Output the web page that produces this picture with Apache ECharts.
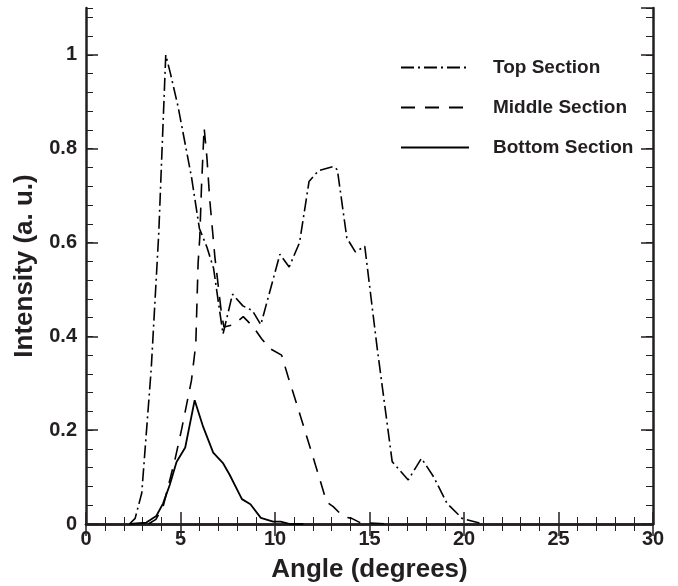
<!DOCTYPE html>
<html>
<head>
<meta charset="utf-8">
<script src="https://cdn.jsdelivr.net/npm/echarts@6/dist/echarts.min.js"></script>
<style>
  html, body { margin: 0; padding: 0; background: #fff; }
  #chart { width: 678px; height: 586px; }
</style>
</head>
<body>
<div id="chart"></div>
<script>
// series values (angle in degrees, intensity a.u.)
const topX = [2.3, 2.6, 2.95, 3.45, 3.85, 4.22, 4.47, 4.87, 5.58, 6.0, 6.4, 6.75, 7.05, 7.25, 7.75, 8.3, 8.8, 9.25, 10.26, 10.75, 11.3, 11.8, 12.3, 13.1, 13.3, 13.8, 14.25, 14.75, 15.4, 16.2, 17.05, 17.75, 18.4, 19.1, 19.9, 21]
const topY = [0, 0.012, 0.066, 0.33, 0.62, 1.0, 0.96, 0.89, 0.74, 0.63, 0.59, 0.545, 0.46, 0.405, 0.49, 0.465, 0.455, 0.425, 0.575, 0.548, 0.6, 0.73, 0.753, 0.762, 0.755, 0.61, 0.58, 0.592, 0.377, 0.133, 0.094, 0.14, 0.1, 0.044, 0.012, 0]

const midX = [3.3, 3.7, 4.08, 4.34, 4.7, 5.05, 5.58, 5.81, 5.93, 6.02, 6.11, 6.25, 6.4, 6.55, 6.82, 7.17, 7.3, 7.8, 8.32, 8.85, 9.29, 9.73, 10.35, 10.7, 11.14, 11.85, 12.38, 12.73, 13.08, 13.61, 14.06, 14.5, 16]
const midY = [0, 0.01, 0.037, 0.079, 0.136, 0.2, 0.306, 0.384, 0.555, 0.611, 0.718, 0.845, 0.78, 0.69, 0.569, 0.448, 0.42, 0.425, 0.442, 0.42, 0.395, 0.374, 0.36, 0.313, 0.257, 0.164, 0.094, 0.047, 0.037, 0.016, 0.012, 0.003, 0]

const botX = [2.3, 3.19, 3.72, 4.08, 4.43, 4.79, 5.25, 5.75, 6.2, 6.73, 7.26, 7.6, 8.25, 8.7, 9.25, 9.9, 10.3, 10.8, 11.5]
const botY = [0, 0.003, 0.017, 0.044, 0.083, 0.132, 0.163, 0.264, 0.207, 0.152, 0.129, 0.105, 0.053, 0.042, 0.013, 0.005, 0.005, 0, 0]

const seriesNames = ['Top Section', 'Middle Section', 'Bottom Section']
const xTicks = [0, 5, 10, 15, 20, 25, 30]
const yTicks = [0, 0.2, 0.4, 0.6, 0.8, 1]

const ink = '#231f20'
const font = 'Liberation Sans, Arial, sans-serif'

function pairs(xs, ys) {
  return xs.map((x, i) => [x, ys[i]])
}

// 不带标签的刻度轴（四周的边框和次刻度）
function tickAxis(base, extra) {
  return Object.assign({
    type: 'value',
    axisLine: { show: true, lineStyle: { color: ink, width: 2.5 } },
    axisLabel: { show: false },
    splitLine: { show: false },
    axisTick: { show: true, inside: true, length: 12, lineStyle: { color: ink, width: 1.5 } }
  }, base, extra)
}

const minorTickStyle = { show: true, inside: true, length: 7, lineStyle: { color: ink, width: 1 } }
const xBase = { min: xTicks[0], max: xTicks[xTicks.length - 1], interval: 5 }
const yBase = { min: 0, max: 1.1, interval: 0.2 }
const yMinor = { min: 0, max: 1.1, interval: 0.04 }

let chart = echarts.init(document.getElementById('chart'))

let option = {
  animation: false,
  backgroundColor: '#fff',
  grid: { left: 86, right: 25, top: 8, bottom: 62, outerBoundsMode: 'none' },
  legend: {
    orient: 'vertical',
    left: 400,
    top: 58,
    padding: 0,
    itemWidth: 68,
    itemHeight: 20,
    itemGap: 21,
    data: seriesNames,
    itemStyle: { opacity: 0 },
    textStyle: {
      color: ink, fontFamily: font, fontWeight: 'bold', fontSize: 19,
      padding: [0, 0, 0, 19]
    }
  },
  xAxis: [
    Object.assign(tickAxis(xBase, { position: 'bottom' }), {
      name: 'Angle (degrees)',
      nameLocation: 'middle',
      nameGap: 33,
      nameTextStyle: { color: ink, fontFamily: font, fontWeight: 'bold', fontSize: 26 },
      axisLabel: { show: true, color: ink, fontFamily: font, fontWeight: 'bold', fontSize: 20, margin: 5 },
      minorTick: { show: true, splitNumber: 5, length: 7, lineStyle: { color: ink, width: 1 } }
    }),
    Object.assign(tickAxis(xBase, { position: 'top' }), {
      minorTick: { show: true, splitNumber: 5, length: 7, lineStyle: { color: ink, width: 1 } }
    })
  ],
  yAxis: [
    Object.assign(tickAxis(yBase, { position: 'left' }), {
      name: 'Intensity (a. u.)',
      nameLocation: 'middle',
      nameGap: 40,
      nameTextStyle: { color: ink, fontFamily: font, fontWeight: 'bold', fontSize: 26 },
      axisLabel: {
        show: true, color: ink, fontFamily: font, fontWeight: 'bold', fontSize: 20, margin: 9,
        showMaxLabel: false,
        formatter: v => v > yTicks[yTicks.length - 1] + 0.05 ? '' : String(+v.toFixed(1))
      }
    }),
    tickAxis(yMinor, { position: 'left', axisLine: { show: false }, axisTick: minorTickStyle }),
    tickAxis(yBase, { position: 'right' }),
    tickAxis(yMinor, { position: 'right', axisLine: { show: false }, axisTick: minorTickStyle })
  ],
  series: [
    {
      name: seriesNames[0],
      type: 'line',
      symbol: 'none',
      data: pairs(topX, topY),
      lineStyle: { color: '#000', width: 1.6, type: [13, 4, 2, 4] },
      itemStyle: { color: '#000' }
    },
    {
      name: seriesNames[1],
      type: 'line',
      symbol: 'none',
      data: pairs(midX, midY),
      lineStyle: { color: '#000', width: 1.6, type: [14, 10] },
      itemStyle: { color: '#000' }
    },
    {
      name: seriesNames[2],
      type: 'line',
      symbol: 'none',
      data: pairs(botX, botY),
      lineStyle: { color: '#000', width: 1.8, type: 'solid' },
      itemStyle: { color: '#000' }
    }
  ]
}
chart.setOption(option)
</script>
</body>
</html>
